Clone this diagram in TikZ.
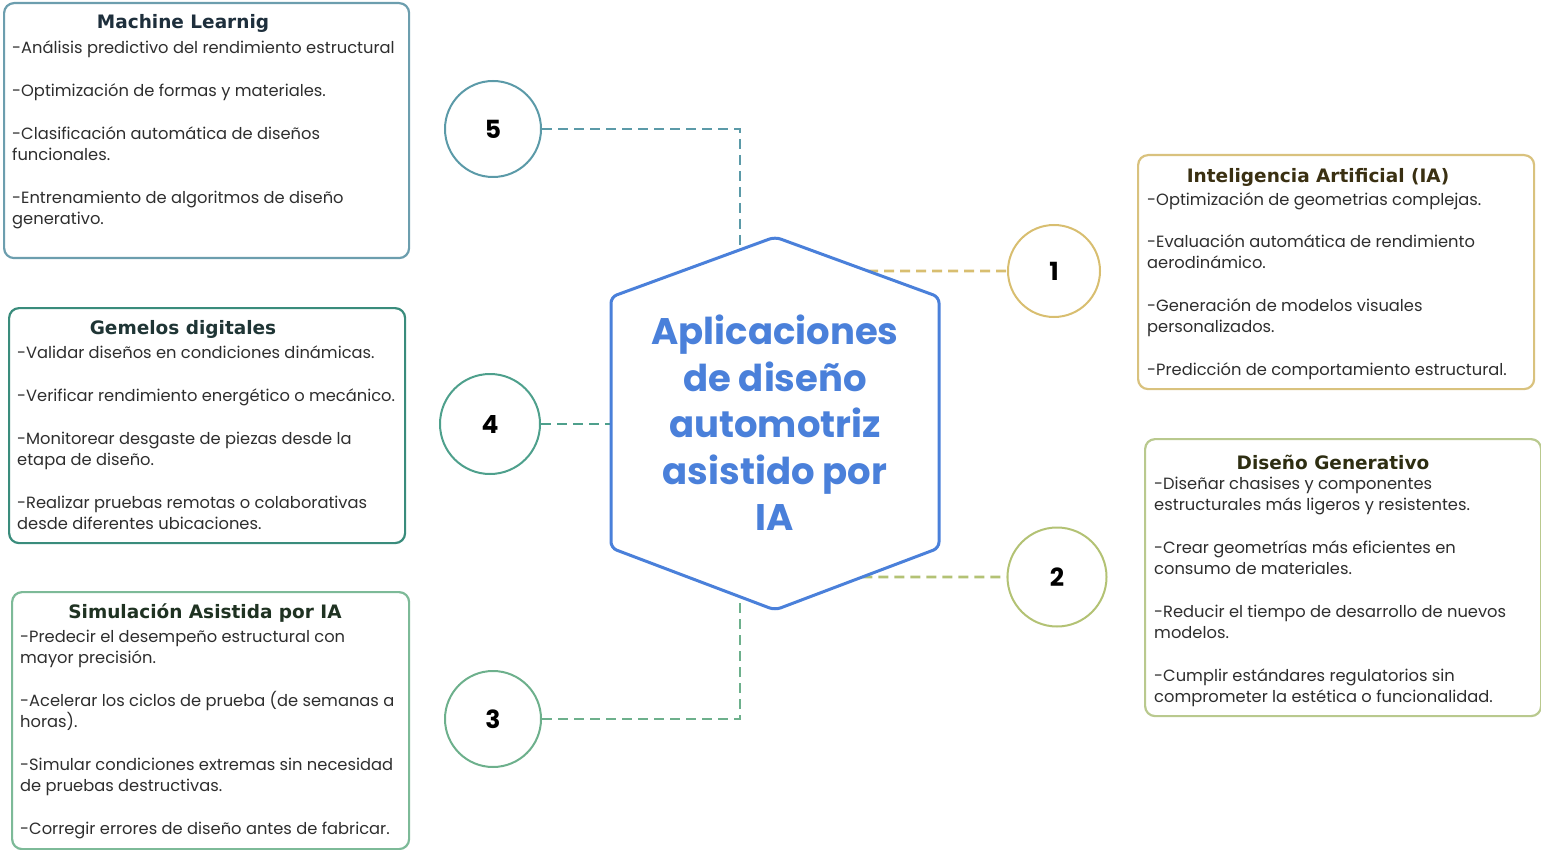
\documentclass[tikz,border=0pt]{standalone}
\usepackage{fontspec}
\setmainfont{Poppins}
\newfontfamily\ttlfont{DejaVu Sans}
\usetikzlibrary{calc}
\definecolor{hexblue}{HTML}{4A80DA}
\definecolor{cML}{HTML}{6C9EAE}
\definecolor{cGem}{HTML}{3A8C7C}
\definecolor{cSim}{HTML}{7DBA98}
\definecolor{cIA}{HTML}{D9C27E}
\definecolor{cDG}{HTML}{B9C98E}
\definecolor{c5}{HTML}{5B9AA8}
\definecolor{c4}{HTML}{4EA08C}
\definecolor{c3}{HTML}{6DB08C}
\definecolor{c1}{HTML}{D8BE70}
\definecolor{c2}{HTML}{B3C274}
\definecolor{bodygray}{HTML}{2E2E2E}
\definecolor{tML}{HTML}{1E2F3C}
\definecolor{tGem}{HTML}{1F3535}
\definecolor{tSim}{HTML}{1F3222}
\definecolor{tIA}{HTML}{3A3012}
\definecolor{tDG}{HTML}{2E2E12}
\tikzset{
  infobox/.style={draw, line width=2.2pt, rounded corners=10pt, fill=white, inner sep=0pt, anchor=north west},
  boxtitle/.style={font=\ttlfont\bfseries\fontsize{18.5}{22}\selectfont, inner sep=0pt},
  boxbody/.style={font=\fontsize{16.3}{21.3}\selectfont, text=bodygray, align=left, inner sep=0pt, anchor=north west},
  numcircle/.style={circle, draw, line width=2pt, minimum size=96pt, inner sep=0pt, font=\bfseries\fontsize{25}{30}\selectfont, text=black},
  link/.style={dashed, dash pattern=on 10pt off 6pt, line width=2.8pt},
}
\begin{document}
\begin{tikzpicture}[x=1pt,y=-1pt]
\useasboundingbox (0,0) rectangle (1541,850);

% hexagon
\coordinate (hT) at (775,237);
\coordinate (hUR) at (939,297);
\coordinate (hLR) at (939,548);
\coordinate (hB) at (775,610);
\coordinate (hLL) at (611,548);
\coordinate (hUL) at (611,297);
\coordinate (h5) at ($(hUL)!0.7866!(hT)$);
\coordinate (h1) at ($(hT)!0.567!(hUR)$);
\coordinate (h2) at ($(hLR)!0.4677!(hB)$);
\coordinate (h3) at ($(hLL)!0.7866!(hB)$);
\coordinate (h4) at (611,424);

% circles
\node[numcircle, draw=c5] (n5) at (493,129) {5};
\node[numcircle, draw=c4, minimum size=100pt] (n4) at (490,424) {4};
\node[numcircle, draw=c3] (n3) at (493,719) {3};
\node[numcircle, draw=c1, minimum size=92pt] (n1) at (1054,271) {1};
\node[numcircle, draw=c2, minimum size=99pt] (n2) at (1057,577) {2};

% connectors
\draw[link, draw=c5] (n5.east) -| (h5);
\draw[link, draw=c1] (h1) -- (n1.west);
\draw[link, draw=c2] (h2) -- (n2.west);
\draw[link, draw=c3] (n3.east) -| (h3);
\draw[link, draw=c4] (n4.east) -- (h4);

\draw[hexblue, line width=3pt, rounded corners=6pt, fill=white] (hT) -- (hUR) -- (hLR) -- (hB) -- (hLL) -- (hUL) -- cycle;
\node[font=\bfseries\fontsize{37}{46.5}\selectfont, text=hexblue, align=center, inner sep=0pt] (center) at (775,423) {Aplicaciones\\de diseño\\automotriz\\asistido por\\IA};

% Machine Learning box
\node[infobox, draw=cML, minimum width=405pt, minimum height=255pt] (mlbox) at (3,2) {};
\node[boxtitle, text=tML] (mlt) at (183,23) {Machine Learnig};
\node[boxbody] (mlb) at (12,41) {-Análisis predictivo del rendimiento estructural\\[21.3pt]-Optimización de formas y materiales.\\[21.3pt]-Clasificación automática de diseños\\funcionales.\\[21.3pt]-Entrenamiento de algoritmos de diseño\\generativo.};

% Gemelos box
\node[infobox, draw=cGem, minimum width=396pt, minimum height=235pt] (gembox) at (8,307) {};
\node[boxtitle, text=tGem] (gemt) at (183,329) {Gemelos digitales};
\node[boxbody] (gemb) at (17,346) {-Validar diseños en condiciones dinámicas.\\[21.3pt]-Verificar rendimiento energético o mecánico.\\[21.3pt]-Monitorear desgaste de piezas desde la\\etapa de diseño.\\[21.3pt]-Realizar pruebas remotas o colaborativas\\desde diferentes ubicaciones.};

% Simulacion box
\node[infobox, draw=cSim, minimum width=397pt, minimum height=257pt] (simbox) at (11,591) {};
\node[boxtitle, text=tSim] (simt) at (205,613) {Simulación Asistida por IA};
\node[boxbody] (simb) at (20,630) {-Predecir el desempeño estructural con\\mayor precisión.\\[21.3pt]-Acelerar los ciclos de prueba (de semanas a\\horas).\\[21.3pt]-Simular condiciones extremas sin necesidad\\de pruebas destructivas.\\[21.3pt]-Corregir errores de diseño antes de fabricar.};

% IA box
\node[infobox, draw=cIA, minimum width=396pt, minimum height=234pt] (iabox) at (1137,154) {};
\node[boxtitle, text=tIA] (iat) at (1318,177) {Inteligencia Artificial (IA)};
\node[boxbody] (iab) at (1147,192) {-Optimización de geometrias complejas.\\[21.3pt]-Evaluación automática de rendimiento\\aerodinámico.\\[21.3pt]-Generación de modelos visuales\\personalizados.\\[21.3pt]-Predicción de comportamiento estructural.};

% Diseno Generativo box
\node[infobox, draw=cDG, minimum width=396pt, minimum height=277pt] (dgbox) at (1144,438) {};
\node[boxtitle, text=tDG] (dgt) at (1333,462) {Diseño Generativo};
\node[boxbody] (dgb) at (1154,477) {-Diseñar chasises y componentes\\estructurales más ligeros y resistentes.\\[21.3pt]-Crear geometrías más eficientes en\\consumo de materiales.\\[21.3pt]-Reducir el tiempo de desarrollo de nuevos\\modelos.\\[21.3pt]-Cumplir estándares regulatorios sin\\comprometer la estética o funcionalidad.};
\end{tikzpicture}
\end{document}
